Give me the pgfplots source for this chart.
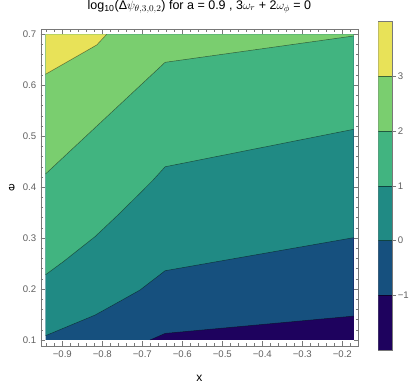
\documentclass[border=0pt]{standalone}
\usepackage{fontspec}
\setmainfont{Liberation Sans}
\usepackage{pgfplots}
\pgfplotsset{compat=1.18}
\definecolor{cY}{RGB}{232,226,88}
\definecolor{cL}{RGB}{122,206,111}
\definecolor{cG}{RGB}{65,180,128}
\definecolor{cT}{RGB}{32,138,132}
\definecolor{cB}{RGB}{22,80,126}
\definecolor{cP}{RGB}{30,2,94}
\definecolor{cF}{RGB}{120,120,120}
\definecolor{cTxt}{RGB}{95,95,95}
\begin{document}
\begin{tikzpicture}
\useasboundingbox (-40.7pt,-42.3pt) rectangle (376.3pt,345.7pt);
\begin{axis}[at={(0pt,0pt)}, anchor=south west, scale only axis,
  width=317.3pt, height=316.4pt,
  xmin=-0.954, xmax=-0.1608, ymin=0.0888, ymax=0.7098,
  axis line style={cF}, tick style={cF, line width=0.5pt},
  tick align=inside, major tick length=4.5pt, minor tick length=2.5pt,
  xtick={-0.9,-0.8,-0.7,-0.6,-0.5,-0.4,-0.3,-0.2},
  xticklabels={−0.9,−0.8,−0.7,−0.6,−0.5,−0.4,−0.3,−0.2},
  ytick={0.1,0.2,0.3,0.4,0.5,0.6,0.7},
  yticklabels={0.1,0.2,0.3,0.4,0.5,0.6,0.7},
  minor xtick={-0.94,-0.92,...,-0.16},
  minor ytick={0.1,0.12,...,0.70},
  ticklabel style={font=\fontsize{9.6}{11}\selectfont, text=cTxt},
  xticklabel style={yshift=-2pt},
  yticklabel style={xshift=-1pt},
  xlabel={x}, ylabel={e},
  label style={font=\fontsize{12}{14}\selectfont},
  xlabel style={at={(axis description cs:0.5,-0.102)}, anchor=center},
  ylabel style={at={(axis description cs:-0.0914,0.5)}, anchor=center, rotate=90},
  title={log\textsubscript{10}(Δ$\psi_{\theta,3,0,2}$) for a = 0.9 , 3$\omega_r$ + 2$\omega_\phi$ = 0},
  title style={font=\fontsize{12.5}{15}\selectfont, at={(axis description cs:0.5,1.045)}, anchor=base},
]
% filled regions (layered)
\addplot[fill=cP, draw=none] coordinates {(-0.942,0.1) (-0.172,0.1) (-0.172,0.7) (-0.942,0.7)} -- cycle;
\addplot[fill=cB, draw=none] coordinates {(-0.681,0.1) (-0.643,0.113) (-0.172,0.147) (-0.172,0.7) (-0.942,0.7) (-0.942,0.1)} -- cycle;
\addplot[fill=cT, draw=none] coordinates {(-0.942,0.1085) (-0.818,0.149) (-0.756,0.176) (-0.706,0.198) (-0.643,0.236) (-0.172,0.3008) (-0.172,0.7) (-0.942,0.7)} -- cycle;
\addplot[fill=cG, draw=none] coordinates {(-0.942,0.228) (-0.897,0.254) (-0.818,0.303) (-0.756,0.349) (-0.706,0.388) (-0.673,0.414) (-0.643,0.440) (-0.172,0.5135) (-0.172,0.7) (-0.942,0.7)} -- cycle;
\addplot[fill=cL, draw=none] coordinates {(-0.942,0.4258) (-0.643,0.645) (-0.172,0.6967) (-0.172,0.7) (-0.942,0.7)} -- cycle;
\addplot[fill=cY, draw=none] coordinates {(-0.942,0.6215) (-0.814,0.679) (-0.789,0.7) (-0.942,0.7)} -- cycle;
% contour lines
\addplot[black, opacity=0.5, line width=0.5pt] coordinates {(-0.681,0.1) (-0.643,0.113) (-0.172,0.147)};
\addplot[black, opacity=0.5, line width=0.5pt] coordinates {(-0.942,0.1085) (-0.818,0.149) (-0.756,0.176) (-0.706,0.198) (-0.643,0.236) (-0.172,0.3008)};
\addplot[black, opacity=0.5, line width=0.5pt] coordinates {(-0.942,0.228) (-0.897,0.254) (-0.818,0.303) (-0.756,0.349) (-0.706,0.388) (-0.673,0.414) (-0.643,0.440) (-0.172,0.5135)};
\addplot[black, opacity=0.5, line width=0.5pt] coordinates {(-0.942,0.4258) (-0.643,0.645) (-0.172,0.6967)};
\addplot[black, opacity=0.5, line width=0.5pt] coordinates {(-0.942,0.6215) (-0.814,0.679) (-0.789,0.7)};
\end{axis}
% colour bar
\begin{axis}[at={(337.6pt,-4.3pt)}, anchor=south west, scale only axis,
  width=14pt, height=328.3pt,
  xmin=0, xmax=1, ymin=-2, ymax=4,
  axis line style={cF}, tick style={cF, line width=0.5pt},
  xtick=\empty, ytick={-1,0,1,2,3}, yticklabels={−1,0,1,2,3},
  ytick pos=right, yticklabel pos=right, tick align=outside,
  major tick length=4pt,
  ticklabel style={font=\fontsize{9.6}{11}\selectfont, text=cTxt},
  yticklabel style={xshift=-2pt},
]
\addplot[fill=cP, draw=none] coordinates {(0,-2) (1,-2) (1,-1) (0,-1)} -- cycle;
\addplot[fill=cB, draw=none] coordinates {(0,-1) (1,-1) (1,0) (0,0)} -- cycle;
\addplot[fill=cT, draw=none] coordinates {(0,0) (1,0) (1,1) (0,1)} -- cycle;
\addplot[fill=cG, draw=none] coordinates {(0,1) (1,1) (1,2) (0,2)} -- cycle;
\addplot[fill=cL, draw=none] coordinates {(0,2) (1,2) (1,3) (0,3)} -- cycle;
\addplot[fill=cY, draw=none] coordinates {(0,3) (1,3) (1,4) (0,4)} -- cycle;
\addplot[black, opacity=0.5, line width=0.5pt] coordinates {(0,-1) (1,-1)};
\addplot[black, opacity=0.5, line width=0.5pt] coordinates {(0,0) (1,0)};
\addplot[black, opacity=0.5, line width=0.5pt] coordinates {(0,1) (1,1)};
\addplot[black, opacity=0.5, line width=0.5pt] coordinates {(0,2) (1,2)};
\addplot[black, opacity=0.5, line width=0.5pt] coordinates {(0,3) (1,3)};
\end{axis}
\end{tikzpicture}
\end{document}
